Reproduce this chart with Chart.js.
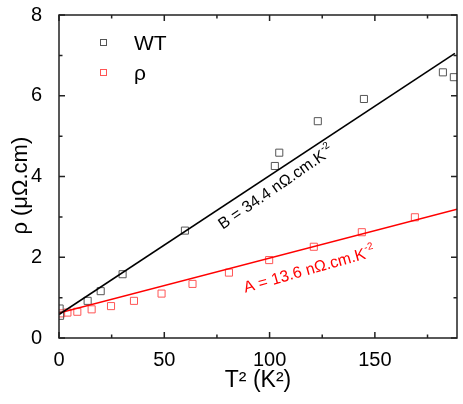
<!DOCTYPE html>
<html>
<head>
<script src="https://cdn.jsdelivr.net/npm/chart.js"></script>
<style>
  body { margin: 0; background: #fff; }
  #wrap { width: 463px; height: 404px; }
</style>
</head>
<body>
<div id="wrap"><canvas id="c" width="463" height="404"></canvas></div>
<script>
// WT series (open black squares)
const wtT2  = [0.3, 0.5, 13.6, 19.8, 30.2, 59.8, 102.5, 104.6, 122.9, 144.8, 182.3, 187.5];
const wtRho = [0.73, 0.55, 0.92, 1.16, 1.58, 2.66, 4.26, 4.59, 5.37, 5.92, 6.58, 6.46];
// rho series (open red squares)
const rhoT2  = [1, 4, 8.7, 15.5, 24.7, 35.6, 48.7, 63.4, 80.7, 99.8, 121, 143.8, 169];
const rhoVal = [0.61, 0.63, 0.65, 0.71, 0.79, 0.92, 1.1, 1.34, 1.62, 1.93, 2.26, 2.62, 2.99];
// fit lines (end points)
const fitWTx = [0, 188];
const fitWTy = [0.58, 7.05];
const fitRhoX = [0, 189];
const fitRhoY = [0.62, 3.19];
// ticks
const xTicks = [0, 50, 100, 150];
const xMinor = [25, 75, 125, 175];
const yTicks = [0, 2, 4, 6, 8];
const yMinor = [1, 3, 5, 7];

const FONT = "'Liberation Sans', Arial, sans-serif";

function pts(xs, ys) {
  return xs.map((x, i) => ({ x: x, y: ys[i] }));
}

// frame with inward ticks on all four sides
const framePlugin = {
  id: 'frame',
  afterDatasetsDraw(chart) {
    const { ctx, chartArea: a, scales } = chart;
    const sx = scales.x, sy = scales.y;
    ctx.save();
    ctx.strokeStyle = '#222';
    ctx.lineWidth = 1.5;
    ctx.strokeRect(a.left, a.top, a.right - a.left, a.bottom - a.top);
    ctx.beginPath();
    const tx = (v, len) => {
      const p = sx.getPixelForValue(v);
      ctx.moveTo(p, a.bottom); ctx.lineTo(p, a.bottom - len);
      ctx.moveTo(p, a.top); ctx.lineTo(p, a.top + len);
    };
    const ty = (v, len) => {
      const p = sy.getPixelForValue(v);
      ctx.moveTo(a.left, p); ctx.lineTo(a.left + len, p);
      ctx.moveTo(a.right, p); ctx.lineTo(a.right - len, p);
    };
    xTicks.forEach(v => tx(v, 6));
    xMinor.forEach(v => tx(v, 3.5));
    yTicks.forEach(v => ty(v, 6));
    yMinor.forEach(v => ty(v, 3.5));
    ctx.stroke();
    ctx.restore();
  }
};

// legend drawn inside the plot
const legendPlugin = {
  id: 'innerLegend',
  afterDraw(chart) {
    const { ctx } = chart;
    const items = [
      { label: 'WT', color: '#555', y: 43 },
      { label: 'ρ', color: '#f55', y: 73 }
    ];
    ctx.save();
    ctx.font = '21px ' + FONT;
    ctx.textBaseline = 'middle';
    items.forEach(it => {
      ctx.strokeStyle = it.color;
      ctx.lineWidth = 1;
      ctx.strokeRect(100.5, it.y - 3.5, 6, 6);
      ctx.fillStyle = '#000';
      ctx.fillText(it.label, 134, it.y + 1);
    });
    ctx.restore();
  }
};

// slope labels along the fit lines
const labelPlugin = {
  id: 'fitLabels',
  afterDatasetsDraw(chart) {
    const { ctx, scales } = chart;
    const sx = scales.x, sy = scales.y;
    const labels = [
      { main: 'B = 34.4 nΩ.cm.K', sup: '-2', color: '#000', at: [103, 3.72], lx: fitWTx, ly: fitWTy },
      { main: 'A = 13.6 nΩ.cm.K', sup: '-2', color: '#f00', at: [118.7, 1.68], lx: fitRhoX, ly: fitRhoY }
    ];
    labels.forEach(l => {
      const x0 = sx.getPixelForValue(l.lx[0]), y0 = sy.getPixelForValue(l.ly[0]);
      const x1 = sx.getPixelForValue(l.lx[1]), y1 = sy.getPixelForValue(l.ly[1]);
      const ang = Math.atan2(y1 - y0, x1 - x0) - 0.02;
      const cx = sx.getPixelForValue(l.at[0]), cy = sy.getPixelForValue(l.at[1]);
      ctx.save();
      ctx.translate(cx, cy);
      ctx.rotate(ang);
      ctx.fillStyle = l.color;
      ctx.textBaseline = 'middle';
      ctx.textAlign = 'left';
      ctx.font = '16px ' + FONT;
      const wm = ctx.measureText(l.main).width;
      ctx.font = '10px ' + FONT;
      const ws = ctx.measureText(l.sup).width;
      const start = -(wm + ws) / 2;
      ctx.font = '16px ' + FONT;
      ctx.fillText(l.main, start, 0);
      ctx.font = '10px ' + FONT;
      ctx.fillText(l.sup, start + wm + 0.5, -6);
      ctx.restore();
    });
  }
};

new Chart(document.getElementById('c'), {
  type: 'scatter',
  data: {
    datasets: [
      {
        label: 'WT fit',
        data: pts(fitWTx, fitWTy),
        showLine: true,
        borderColor: '#000',
        borderWidth: 1.6,
        pointRadius: 0
      },
      {
        label: 'rho fit',
        data: pts(fitRhoX, fitRhoY),
        showLine: true,
        borderColor: '#f00',
        borderWidth: 1.6,
        pointRadius: 0
      },
      {
        label: 'WT',
        data: pts(wtT2, wtRho),
        pointStyle: 'rect',
        pointRadius: 5,
        pointBorderWidth: 1,
        pointBorderColor: '#555',
        pointBackgroundColor: 'rgba(0,0,0,0)'
      },
      {
        label: 'ρ',
        data: pts(rhoT2, rhoVal),
        pointStyle: 'rect',
        pointRadius: 5,
        pointBorderWidth: 1,
        pointBorderColor: '#f55',
        pointBackgroundColor: 'rgba(0,0,0,0)'
      }
    ]
  },
  options: {
    responsive: false,
    animation: false,
    layout: { padding: { top: 15, right: 6, left: 0, bottom: 0 } },
    plugins: {
      legend: { display: false },
      tooltip: { enabled: false }
    },
    scales: {
      x: {
        type: 'linear',
        min: 0,
        max: 189,
        grid: { display: false },
        border: { display: false },
        afterBuildTicks(scale) { scale.ticks = xTicks.map(v => ({ value: v })); },
        afterFit(scale) {
          scale.height = 66;
          scale.paddingLeft = 0;
          scale.paddingRight = 0;
        },
        ticks: { color: '#000', font: { family: FONT, size: 20 }, padding: 2, maxRotation: 0 },
        title: {
          display: true,
          text: 'T² (K²)',
          color: '#000',
          font: { family: FONT, size: 23 },
          padding: { top: 0, bottom: 10 }
        }
      },
      y: {
        type: 'linear',
        min: 0,
        max: 8,
        grid: { display: false },
        border: { display: false },
        afterBuildTicks(scale) { scale.ticks = yTicks.map(v => ({ value: v })); },
        afterFit(scale) {
          scale.width = 59;
          scale.paddingTop = 0;
          scale.paddingBottom = 0;
        },
        ticks: { color: '#000', font: { family: FONT, size: 20 }, padding: 9 },
        title: {
          display: true,
          text: 'ρ (μΩ.cm)   ',
          color: '#000',
          font: { family: FONT, size: 22 },
          padding: { top: 8, bottom: 0 }
        }
      }
    }
  },
  plugins: [framePlugin, labelPlugin, legendPlugin]
});
</script>
</body>
</html>
